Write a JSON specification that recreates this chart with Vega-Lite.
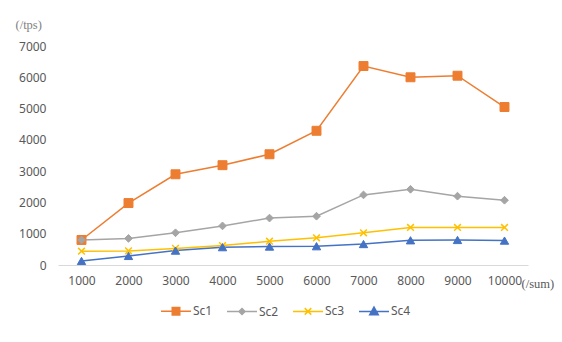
{
  "$schema": "https://vega.github.io/schema/vega-lite/v6.json",
  "width": 470,
  "height": 219,
  "autosize": {"type": "none"},
  "padding": {"left": 58, "top": 46, "right": 34, "bottom": 77},
  "background": "white",
  "config": {"view": {"stroke": null}, "font": "Noto Sans"},
  "data": {"values": [
    {"n": "1000", "s": "Sc1", "v": 800}, {"n": "2000", "s": "Sc1", "v": 1980}, {"n": "3000", "s": "Sc1", "v": 2900}, {"n": "4000", "s": "Sc1", "v": 3190}, {"n": "5000", "s": "Sc1", "v": 3540}, {"n": "6000", "s": "Sc1", "v": 4290}, {"n": "7000", "s": "Sc1", "v": 6360}, {"n": "8000", "s": "Sc1", "v": 6000}, {"n": "9000", "s": "Sc1", "v": 6050}, {"n": "10000", "s": "Sc1", "v": 5050},
    {"n": "1000", "s": "Sc2", "v": 800}, {"n": "2000", "s": "Sc2", "v": 850}, {"n": "3000", "s": "Sc2", "v": 1030}, {"n": "4000", "s": "Sc2", "v": 1250}, {"n": "5000", "s": "Sc2", "v": 1500}, {"n": "6000", "s": "Sc2", "v": 1560}, {"n": "7000", "s": "Sc2", "v": 2240}, {"n": "8000", "s": "Sc2", "v": 2420}, {"n": "9000", "s": "Sc2", "v": 2200}, {"n": "10000", "s": "Sc2", "v": 2070},
    {"n": "1000", "s": "Sc3", "v": 440}, {"n": "2000", "s": "Sc3", "v": 450}, {"n": "3000", "s": "Sc3", "v": 530}, {"n": "4000", "s": "Sc3", "v": 620}, {"n": "5000", "s": "Sc3", "v": 760}, {"n": "6000", "s": "Sc3", "v": 870}, {"n": "7000", "s": "Sc3", "v": 1030}, {"n": "8000", "s": "Sc3", "v": 1200}, {"n": "9000", "s": "Sc3", "v": 1200}, {"n": "10000", "s": "Sc3", "v": 1200},
    {"n": "1000", "s": "Sc4", "v": 130}, {"n": "2000", "s": "Sc4", "v": 290}, {"n": "3000", "s": "Sc4", "v": 460}, {"n": "4000", "s": "Sc4", "v": 570}, {"n": "5000", "s": "Sc4", "v": 590}, {"n": "6000", "s": "Sc4", "v": 600}, {"n": "7000", "s": "Sc4", "v": 670}, {"n": "8000", "s": "Sc4", "v": 790}, {"n": "9000", "s": "Sc4", "v": 800}, {"n": "10000", "s": "Sc4", "v": 780}
  ]},
  "encoding": {
    "x": {
      "field": "n", "type": "ordinal",
      "sort": ["1000", "2000", "3000", "4000", "5000", "6000", "7000", "8000", "9000", "10000"],
      "scale": {"type": "point", "padding": 0.5},
      "axis": {
        "labelAngle": 0, "ticks": false, "tickSize": 0, "labelPadding": 10,
        "labelFontSize": 12, "labelColor": "#595959", "labelFont": "Noto Sans",
        "domainColor": "#d9d9d9", "domainWidth": 1, "grid": false,
        "title": "(/sum)", "titleX": 463, "titleY": 18, "titleAlign": "left", "titleBaseline": "middle",
        "titleFont": "Liberation Serif", "titleFontWeight": "normal", "titleFontSize": 12.5, "titleColor": "#595959"
      }
    },
    "y": {
      "field": "v", "type": "quantitative",
      "scale": {"domain": [0, 7000], "nice": false},
      "axis": {
        "values": [0, 1000, 2000, 3000, 4000, 5000, 6000, 7000], "format": "d",
        "domain": false, "ticks": false, "tickSize": 0, "grid": false, "labelPadding": 12,
        "labelFontSize": 12, "labelColor": "#595959", "labelFont": "Noto Sans",
        "title": "(/tps)", "titleAngle": 0, "titleX": -43, "titleY": -22, "titleAlign": "left", "titleBaseline": "middle",
        "titleFont": "Liberation Serif", "titleFontWeight": "normal", "titleFontSize": 12.5, "titleColor": "#7f7f7f"
      }
    },
    "color": {
      "field": "s", "type": "nominal",
      "scale": {"domain": ["Sc1", "Sc2", "Sc3", "Sc4"], "range": ["#ED7D31", "#A5A5A5", "#FFC000", "#4472C4"]},
      "legend": {
        "orient": "none", "legendX": 102, "legendY": 259, "direction": "horizontal", "title": null,
        "labelFontSize": 12, "labelColor": "#595959", "labelFont": "Noto Sans",
        "symbolSize": 100, "labelOffset": 21, "columnPadding": 11, "symbolStrokeWidth": 1.5,
        "encode": {"symbols": {
          "update": {
            "shape": {"signal": "datum.value === 'Sc1' ? 'M-1,0L1.25,0M2.75,0L5,0M1.25,-0.75L2.75,-0.75L2.75,0.75L1.25,0.75Z' : datum.value === 'Sc2' ? 'M-1,0L1.4,0M2.6,0L5,0M2,-0.6L2.6,0L2,0.6L1.4,0Z' : datum.value === 'Sc3' ? 'M-1,0L5,0M1.35,-0.65L2.65,0.65M1.35,0.65L2.65,-0.65' : 'M-1,0L5,0M2,-0.85L2.85,0.65L1.15,0.65Z'"},
            "fill": {"scale": "color", "field": "value"},
            "stroke": {"scale": "color", "field": "value"},
            "strokeWidth": {"value": 1.5},
            "size": {"value": 100},
            "opacity": {"value": 1},
            "fillOpacity": {"value": 1},
            "strokeOpacity": {"value": 1}
          }
        }}
      }
    }
  },
  "layer": [
    {"mark": {"type": "line", "strokeWidth": 1.5}},
    {"transform": [{"filter": "datum.s === 'Sc1'"}],
     "mark": {"type": "point", "filled": true, "opacity": 1, "shape": "square", "size": 80, "stroke": "#ED7D31", "strokeWidth": 1}},
    {"transform": [{"filter": "datum.s === 'Sc2'"}],
     "mark": {"type": "point", "filled": true, "opacity": 1, "shape": "diamond", "size": 60, "stroke": "#A5A5A5", "strokeWidth": 1}},
    {"transform": [{"filter": "datum.s === 'Sc3'"}],
     "mark": {"type": "point", "filled": true, "opacity": 1, "shape": "M-1,-1L1,1M-1,1L1,-1", "size": 45, "stroke": "#FFC000", "strokeWidth": 1.5}},
    {"transform": [{"filter": "datum.s === 'Sc4'"}],
     "mark": {"type": "point", "filled": true, "opacity": 1, "shape": "triangle-up", "size": 70, "stroke": "#4472C4", "strokeWidth": 1}}
  ]
}
